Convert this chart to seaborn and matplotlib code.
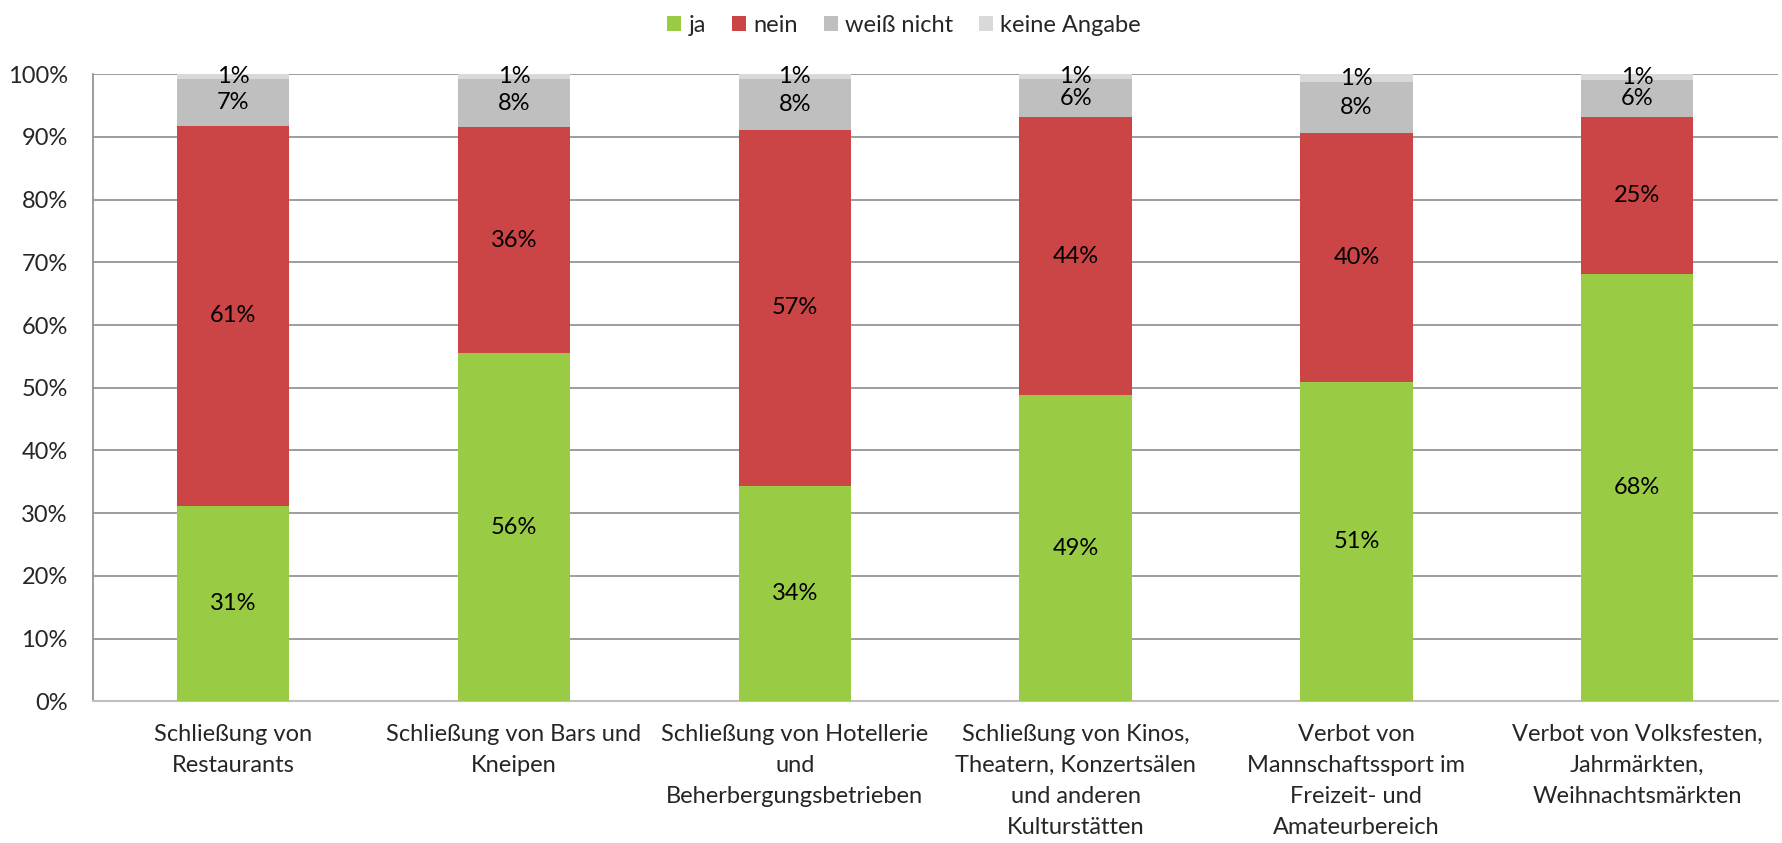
import numpy as np
import pandas as pd
import matplotlib
matplotlib.use("Agg")
import matplotlib.pyplot as plt
import seaborn as sns
from matplotlib.patches import Patch

# Data
categories = [
    "Schließung von\nRestaurants",
    "Schließung von Bars und\nKneipen",
    "Schließung von Hotellerie\nund\nBeherbergungsbetrieben",
    "Schließung von Kinos,\nTheatern, Konzertsälen\nund anderen\nKulturstätten",
    "Verbot von\nMannschaftssport im\nFreizeit- und\nAmateurbereich",
    "Verbot von Volksfesten,\nJahrmärkten,\nWeihnachtsmärkten",
]
ja = [31.2, 55.6, 34.4, 48.9, 51.0, 68.1]
nein = [60.6, 35.9, 56.7, 44.2, 39.6, 25.0]
weiss_nicht = [7.4, 7.7, 8.1, 6.1, 8.1, 5.9]
keine_angabe = [0.8, 0.8, 0.8, 0.8, 1.3, 1.0]

series = ["ja", "nein", "weiß nicht", "keine Angabe"]
colors = ["#99CC44", "#CB4446", "#BFBFBF", "#D9D9D9"]

df = pd.DataFrame({
    "Kategorie": categories,
    "ja": ja,
    "nein": nein,
    "weiß nicht": weiss_nicht,
    "keine Angabe": keine_angabe,
})

# cumulative tops for stacking
cum = df[series].cumsum(axis=1)

sns.set_theme(style="white")
plt.rcParams["font.family"] = ["Lato", "DejaVu Sans"]
fs = 17

fig = plt.figure(figsize=(17.83, 8.43), dpi=100)
ax = fig.add_axes([0.052, 0.168, 0.945, 0.744])

# draw back to front so each layer covers the one above it
for s, c in reversed(list(zip(series, colors))):
    sns.barplot(
        x=df["Kategorie"],
        y=cum[s],
        color=c,
        width=0.4,
        saturation=1,
        linewidth=0,
        ax=ax,
        zorder=3,
    )

# value labels in the middle of each segment
for i in range(len(categories)):
    bottom = 0
    for s in series:
        v = df.loc[i, s]
        ax.text(
            i, bottom + v / 2, f"{v:.0f}%",
            ha="center", va="center", fontsize=fs, color="black", zorder=5
        )
        bottom += v

ax.set_ylim(0, 100)
ax.set_xlim(-0.5, len(categories) - 0.5)
ax.set_yticks(np.arange(0, 101, 10))
ax.set_yticklabels([f"{t}%" for t in range(0, 101, 10)], fontsize=fs)
ax.set_xticks(range(len(categories)))
ax.set_xticklabels(categories, fontsize=fs, linespacing=1.6)
ax.tick_params(axis="x", length=0, pad=16)
ax.tick_params(axis="y", length=0, pad=18)
ax.set_xlabel("")
ax.set_ylabel("")

ax.yaxis.grid(True, color="#8C8C8C", linewidth=1.2, zorder=0)
ax.set_axisbelow(True)
for side in ["top", "right"]:
    ax.spines[side].set_visible(False)
ax.spines["left"].set_color("#8C8C8C")
ax.spines["left"].set_linewidth(1.2)
ax.spines["bottom"].set_color("#BFBFBF")
ax.spines["bottom"].set_linewidth(1.5)

handles = [Patch(facecolor=c, edgecolor="none", label=s) for s, c in zip(series, colors)]
fig.legend(
    handles=handles,
    loc="upper center",
    bbox_to_anchor=(0.507, 1.008),
    ncol=4,
    frameon=False,
    fontsize=fs,
    handlelength=0.6,
    handleheight=0.6,
    handletextpad=0.3,
    columnspacing=1.1,
)

fig.savefig("out.png", dpi=100)
